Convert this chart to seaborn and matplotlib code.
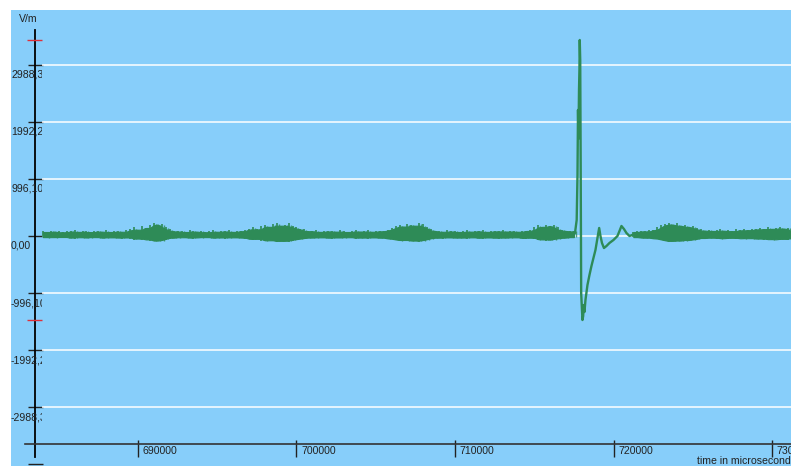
import numpy as np
import matplotlib
matplotlib.use("Agg")
import matplotlib.pyplot as plt
import matplotlib.transforms as mtrans
import seaborn as sns

# ---------------- data ----------------
y_tick_values = [-2988.3, -1992.2, -996.1, 0.0, 996.1, 1992.2, 2988.3]
y_tick_labels = ["-2988,3", "-1992,2", "-996,10", "0,00", "996,10", "1992,2", "2988,3"]
y_extra_ticks = [-3984.4]
x_tick_values = [690000, 700000, 710000, 720000, 730000]
x_tick_labels = ["690000", "700000", "710000", "720000", "730000"]
x_title = "time in microseconds"
y_unit = "V/m"

# noise envelope before the pulse (sample every 250 us from 684000)
noise1_start = 684000
noise_step = 250
noise1_upper = [85, 70, 95, 78, 88, 65, 92, 80, 100, 72, 86, 90, 68, 95, 82, 76, 104, 70, 88, 93, 74, 97,
                120, 150, 110, 170, 140, 190, 230, 200, 215, 160, 120,
                95, 80, 88, 70, 102, 84, 76, 92, 66, 90, 98, 74, 86, 80, 105, 72, 90, 84, 110,
                125, 150, 115, 175, 190, 160, 210, 235, 180, 200, 225, 170, 150, 130, 115,
                90, 84, 100, 72, 95, 80, 88, 76, 104, 86, 70, 92, 98, 78, 85, 102, 74, 90, 82, 96, 110,
                140, 175, 200, 165, 215, 190, 180, 225, 205, 160, 130,
                95, 88, 74, 102, 80, 92, 70, 86, 98, 76, 90, 84, 104, 72, 88, 95, 80, 100, 78, 92, 86, 74, 96, 88, 106,
                150, 185, 160, 195, 175, 200, 150,
                110, 95, 88, 80]
noise1_lower = [-25, -35, -20, -40, -28, -18, -38, -30, -45, -22, -33, -27, -40, -20, -35, -30, -42, -24, -36, -28, -44, -26,
                -50, -65, -45, -75, -60, -85, -95, -80, -90, -70, -50,
                -30, -40, -22, -36, -28, -45, -25, -38, -20, -42, -30, -35, -26, -44, -32, -24, -40, -28, -48,
                -55, -70, -50, -80, -90, -75, -95, -100, -85, -92, -98, -80, -65, -55, -45,
                -35, -28, -42, -24, -38, -30, -45, -26, -34, -40, -22, -36, -44, -28, -32, -46, -25, -38, -30, -42, -48,
                -60, -75, -90, -70, -95, -85, -80, -100, -88, -70, -55,
                -38, -30, -44, -25, -36, -42, -28, -34, -46, -24, -40, -32, -48, -26, -38, -30, -44, -28, -36, -42, -24, -40, -34, -46, -30,
                -55, -70, -60, -80, -65, -75, -50,
                -40, -32, -28, -20]

# noise envelope after the pulse (sample every 250 us from 721250)
noise2_start = 721250
noise2_upper = [70, 85, 95, 80, 100, 110,
                150, 185, 210, 235, 200, 220, 180, 195, 160, 175, 140, 120,
                95, 110, 88, 100, 120, 92, 105, 85, 115, 98, 125, 102,
                130, 115, 145, 120, 150, 125, 140, 160, 130, 145, 120]
noise2_lower = [-20, -28, -35, -30, -40, -45,
                -60, -75, -90, -100, -85, -95, -80, -88, -70, -75, -60, -50,
                -35, -42, -30, -45, -50, -38, -44, -32, -48, -40, -52, -38,
                -50, -60, -45, -65, -55, -70, -58, -62, -50, -66, -55]

# the pulse (time in us, field in V/m)
pulse_t = [717500, 717570, 717677, 717728, 717760, 717790, 717823, 717850, 717870, 717900,
           717930, 717960, 718010, 718042, 718086, 718120, 718168, 718231, 718357, 718483,
           718609, 718735, 718861, 718988, 719095, 719177, 719272, 719398, 719556, 719745,
           719997, 720250, 720376, 720502, 720660, 720818, 721007, 721250]
pulse_v = [30, 52, 280, 1066, 2202, 1700, 2551, 2900, 3425, 3076,
           1200, -996, -1293, -1468, -1398, -1206, -1328, -1118, -856, -682,
           -524, -384, -245, -35, 140, 0, -122, -210, -175, -122,
           -70, 0, 87, 175, 122, 52, 0, 25]

# ---------------- styling ----------------
W, H = 791, 466
BG = "#87cefa"
GREEN = "#2e8b57"
TXT = "#222222"
FONT = ["Liberation Sans", "DejaVu Sans"]
FS = 7.6

XMIN, XMAX = 681988, 731198
YMIN, YMAX = -4019, 3949
YAXIS_X = 683500
XAXIS_Y = -3635

sns.set_style("white")
plt.rcParams["font.family"] = FONT

fig = plt.figure(figsize=(W / 100, H / 100), dpi=100)
fig.patch.set_facecolor("white")
ax = fig.add_axes([11 / W, 0, 780 / W, 456 / H])
ax.set_facecolor(BG)

# gridlines
grid_x0 = (42 - 11) / 780
ax.hlines(y_tick_values, grid_x0, 1, transform=ax.get_yaxis_transform(),
          colors="white", linewidth=1.1, zorder=1)

# noise bands: a solid core plus thin vertical spikes at each envelope sample
t1 = noise1_start + noise_step * np.arange(len(noise1_upper))
t2 = noise2_start + noise_step * np.arange(len(noise2_upper))
for t, lo, up in ((t1, noise1_lower, noise1_upper), (t2, noise2_lower, noise2_upper)):
    up_a = np.asarray(up, float)
    lo_a = np.asarray(lo, float)
    core_up = np.minimum(np.minimum(up_a, np.roll(up_a, 1)), np.roll(up_a, -1))
    core_lo = np.maximum(np.maximum(lo_a, np.roll(lo_a, 1)), np.roll(lo_a, -1))
    ax.fill_between(t, core_lo, core_up, color=GREEN, linewidth=0.8, edgecolor=GREEN, zorder=3)
    ax.vlines(t, lo_a, up_a, colors=GREEN, linewidth=1.2, zorder=3)
    ax.vlines(t + noise_step / 2, (lo_a + core_lo) / 2, (up_a + core_up) / 2,
              colors=GREEN, linewidth=1.0, alpha=0.8, zorder=3)

# pulse
sns.lineplot(x=pulse_t, y=pulse_v, ax=ax, color=GREEN, linewidth=1.7,
             estimator=None, sort=False, legend=False, zorder=4)
ax.set_xlabel("")
ax.set_ylabel("")

ax.set_xlim(XMIN, XMAX)
ax.set_ylim(YMIN, YMAX)

# spines
for s in ("top", "right"):
    ax.spines[s].set_visible(False)
ax.spines["left"].set_position(("data", YAXIS_X))
ax.spines["left"].set_bounds(-3860, 3600)
ax.spines["left"].set_color("black")
ax.spines["left"].set_linewidth(1.3)
ax.spines["bottom"].set_position(("data", XAXIS_Y))
ax.spines["bottom"].set_bounds(682870, XMAX)
ax.spines["bottom"].set_color("#333333")
ax.spines["bottom"].set_linewidth(1.2)

# ticks
ax.set_yticks(y_tick_values + y_extra_ticks)
ax.tick_params(axis="y", direction="inout", length=10.8, width=1, color="#222222",
               labelleft=False, left=True)
ax.set_xticks(x_tick_values)
ax.tick_params(axis="x", direction="out", length=9.4, width=1, color="#222222",
               labelbottom=False, bottom=True)
frac = (XAXIS_Y - YMIN) / (YMAX - YMIN)
sec = ax.secondary_xaxis(frac)
sec.set_xticks(x_tick_values)
sec.tick_params(direction="in", length=3, width=1, color="#222222", labelbottom=False)
sec.spines["bottom"].set_visible(False)

# red markers at signal max / min
all_v = pulse_v
ax.hlines([max(all_v), min(all_v)], (27 - 11) / 780, (42 - 11) / 780,
          transform=ax.get_yaxis_transform(), colors="#e0303a", linewidth=1, zorder=5,
          clip_on=False)

# y tick labels (clipped like the reference)
clip = mtrans.TransformedBbox(mtrans.Bbox([[0, 0], [42 / W, 1]]), fig.transFigure)
ylab_tr = ax.get_yaxis_transform() + mtrans.ScaledTranslation(0, -10 / 100, fig.dpi_scale_trans)
for v, lab in zip(y_tick_values, y_tick_labels):
    t = ax.text(0, v, lab, transform=ylab_tr, ha="left", va="center",
                fontsize=FS, color=TXT, family=FONT)
    t.set_clip_box(clip)
    t.set_clip_on(True)

# x tick labels to the right of the ticks
xlab_tr = ax.transData + mtrans.ScaledTranslation(4.5 / 100, -7 / 100, fig.dpi_scale_trans)
for v, lab in zip(x_tick_values, x_tick_labels):
    ax.text(v, XAXIS_Y, lab, transform=xlab_tr, ha="left", va="center",
            fontsize=FS, color=TXT, family=FONT, clip_on=False)

fig.text(697 / W, 1 - 461 / H, x_title, ha="left", va="center", fontsize=FS,
         color=TXT, family=FONT)
fig.text(19 / W, 1 - 19 / H, y_unit, ha="left", va="center", fontsize=FS,
         color=TXT, family=FONT)

fig.savefig("out.png", dpi=100, facecolor=fig.get_facecolor())
